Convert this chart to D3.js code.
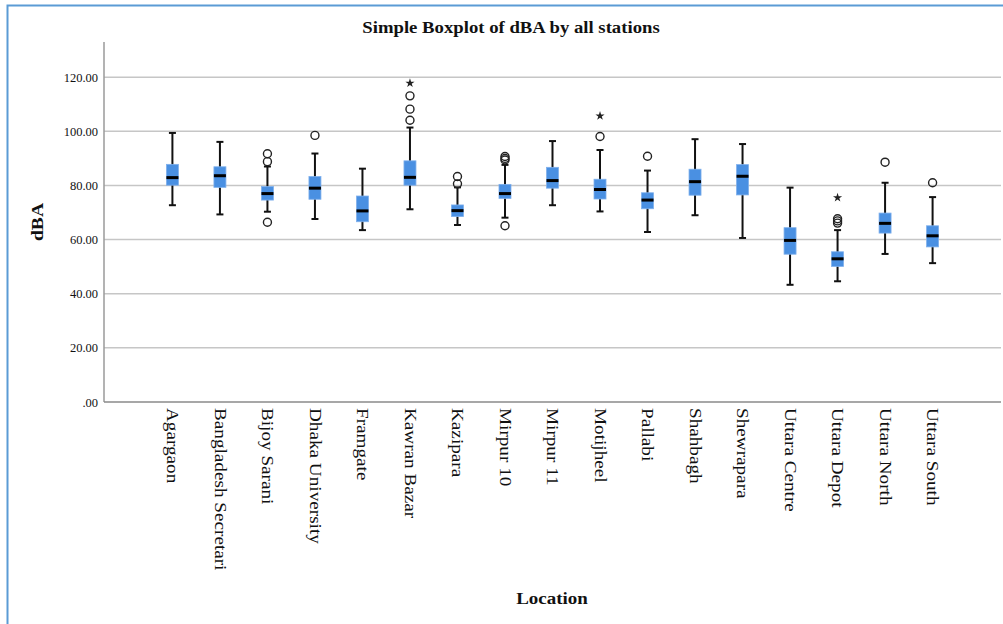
<!DOCTYPE html>
<html>
<head>
<meta charset="utf-8">
<script src="https://cdn.jsdelivr.net/npm/d3@7"></script>
<style>
  body { margin: 0; background: #fff; }
  text { font-family: "Liberation Serif", "Times New Roman", serif; fill: #111; }
</style>
</head>
<body>
<script>
// page size
let width = 1003, height = 624

// plot box (left axis, top, bottom axis, right end)
let plotLeft = 104, plotTop = 42, plotBottom = 402, plotRight = 1001

// the stations
let stations = ["Agargaon", "Bangladesh Secretari", "Bijoy Sarani", "Dhaka University", "Framgate",
  "Kawran Bazar", "Kazipara", "Mirpur 10", "Mirpur 11", "Motijheel", "Pallabi", "Shahbagh",
  "Shewrapara", "Uttara Centre", "Uttara Depot", "Uttara North", "Uttara South"]

// box stats (dBA)
let whiskerLow  = [72.7, 69.3, 70.3, 67.6, 63.5, 71.2, 65.4, 68.1, 72.7, 70.4, 62.8, 69.0, 60.6, 43.3, 44.6, 54.7, 51.3]
let q1          = [80.1, 79.3, 74.6, 74.9, 66.6, 80.1, 68.5, 75.2, 79.0, 75.0, 71.4, 76.4, 76.5, 54.6, 50.1, 62.4, 57.3]
let medians     = [82.9, 83.6, 77.0, 79.0, 70.6, 83.0, 70.7, 77.0, 81.8, 78.5, 74.6, 81.4, 83.4, 59.7, 52.9, 66.0, 61.4]
let q3          = [87.8, 86.9, 79.6, 83.3, 76.1, 89.1, 72.8, 80.4, 86.7, 82.3, 77.3, 86.0, 87.7, 64.4, 55.5, 69.8, 65.1]
let whiskerHigh = [99.4, 96.1, 87.0, 91.8, 86.2, 101.4, 79.3, 87.6, 96.4, 93.1, 85.5, 97.1, 95.3, 79.2, 63.5, 81.0, 75.7]

// circles (outliers) and stars (extremes)
let outliers = [[], [], [91.7, 88.8, 66.4], [98.5], [], [113.1, 108.2, 104.1], [83.3, 80.6],
  [90.7, 90.0, 89.4, 65.1], [], [98.1], [90.8], [], [], [], [67.7, 66.9, 66.1], [88.6], [81.0]]
let extremes = [[], [], [], [], [], [117.8], [], [], [], [105.7], [], [], [], [], [75.5], [], []]

let yTicks = [0, 20, 40, 60, 80, 100, 120]

let svg = d3.select("body").append("svg")
  .attr("width", width)
  .attr("height", height)

// light blue frame round the chart (runs off right and bottom)
svg.append("rect")
  .attr("x", 7.5).attr("y", 5.5)
  .attr("width", 1100).attr("height", 700)
  .attr("fill", "none")
  .attr("stroke", "#5b9bd5")
  .attr("stroke-width", 2)

let x = d3.scalePoint().domain(stations).range([plotLeft, plotRight]).padding(1.44)
let y = d3.scaleLinear().domain([0, 133]).range([plotBottom, plotTop])

// gridlines
svg.append("g")
  .selectAll("line")
  .data(yTicks.filter(d => d > 0))
  .join("line")
  .attr("x1", plotLeft).attr("x2", plotRight)
  .attr("y1", d => y(d)).attr("y2", d => y(d))
  .attr("stroke", "#c6c6c6")
  .attr("stroke-width", 1.5)

// y axis labels
let yAxis = svg.append("g")
  .attr("transform", `translate(${plotLeft},0)`)
  .call(d3.axisLeft(y).tickValues(yTicks).tickSize(0).tickPadding(6)
    .tickFormat(d => d === 0 ? ".00" : d.toFixed(2)))
yAxis.select(".domain").remove()
yAxis.selectAll("text")
  .attr("font-family", "Liberation Serif")
  .attr("font-size", 12.5)
  .attr("fill", "#222")

// axis lines
svg.append("line")
  .attr("x1", plotLeft).attr("x2", plotLeft).attr("y1", plotTop).attr("y2", plotBottom)
  .attr("stroke", "#9a9a9a").attr("stroke-width", 1.5)
svg.append("line")
  .attr("x1", plotLeft).attr("x2", plotRight).attr("y1", plotBottom).attr("y2", plotBottom)
  .attr("stroke", "#8a8a8a").attr("stroke-width", 1.5)

// x labels, rotated to read top to bottom
svg.append("g")
  .selectAll("text")
  .data(stations)
  .join("text")
  .attr("transform", d => `translate(${x(d)},408) rotate(90) scale(1.2,1)`)
  .attr("dy", "0.33em")
  .attr("font-size", 16)
  .text(d => d)

// one group per station
let boxW = 12, capW = 7
let box = svg.append("g")
  .selectAll("g")
  .data(stations)
  .join("g")
  .attr("transform", d => `translate(${x(d)},0)`)

// whisker
box.append("line")
  .attr("y1", (d, i) => y(whiskerLow[i]))
  .attr("y2", (d, i) => y(whiskerHigh[i]))
  .attr("stroke", "#111").attr("stroke-width", 2)
box.append("line")
  .attr("x1", -capW / 2).attr("x2", capW / 2)
  .attr("y1", (d, i) => y(whiskerLow[i])).attr("y2", (d, i) => y(whiskerLow[i]))
  .attr("stroke", "#111").attr("stroke-width", 2)
box.append("line")
  .attr("x1", -capW / 2).attr("x2", capW / 2)
  .attr("y1", (d, i) => y(whiskerHigh[i])).attr("y2", (d, i) => y(whiskerHigh[i]))
  .attr("stroke", "#111").attr("stroke-width", 2)

// box
box.append("rect")
  .attr("x", -boxW / 2)
  .attr("width", boxW)
  .attr("y", (d, i) => y(q3[i]))
  .attr("height", (d, i) => y(q1[i]) - y(q3[i]))
  .attr("fill", "#4a90e2")
  .attr("stroke", "#7fb0ec")
  .attr("stroke-width", 0.8)

// median
box.append("line")
  .attr("x1", -boxW / 2).attr("x2", boxW / 2)
  .attr("y1", (d, i) => y(medians[i])).attr("y2", (d, i) => y(medians[i]))
  .attr("stroke", "#000").attr("stroke-width", 3)

// outlier circles
box.selectAll("circle")
  .data((d, i) => outliers[i])
  .join("circle")
  .attr("cy", d => y(d))
  .attr("r", 4)
  .attr("fill", "none")
  .attr("stroke", "#222")
  .attr("stroke-width", 1.4)

// extreme stars
box.selectAll("path.star")
  .data((d, i) => extremes[i])
  .join("path")
  .attr("class", "star")
  .attr("transform", d => `translate(0,${y(d)})`)
  .attr("d", d3.symbol(d3.symbolStar).size(26))
  .attr("fill", "#222")

// title
svg.append("text")
  .attr("transform", "translate(511,33) scale(1.17,1)")
  .attr("text-anchor", "middle")
  .attr("font-size", 16)
  .attr("font-weight", "bold")
  .text("Simple Boxplot of dBA by all stations")

// axis titles
svg.append("text")
  .attr("transform", `translate(43,${(plotTop + plotBottom) / 2}) rotate(-90) scale(1.15,1)`)
  .attr("text-anchor", "middle")
  .attr("font-size", 17)
  .attr("font-weight", "bold")
  .text("dBA")

svg.append("text")
  .attr("transform", "translate(552,604) scale(1.15,1)")
  .attr("text-anchor", "middle")
  .attr("font-size", 16.5)
  .attr("font-weight", "bold")
  .text("Location")
</script>
</body>
</html>
